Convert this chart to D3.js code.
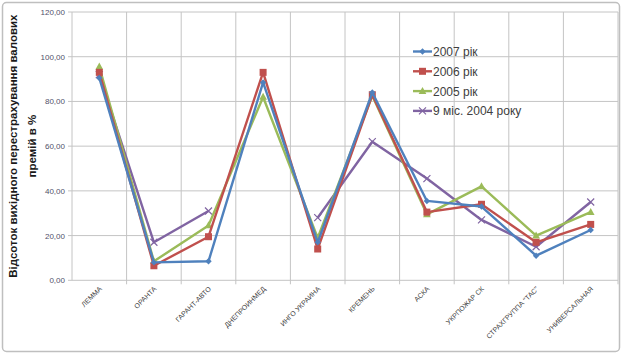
<!DOCTYPE html>
<html><head><meta charset="utf-8">
<script src="https://cdn.jsdelivr.net/npm/d3@7"></script>
<style>
html,body{margin:0;padding:0;background:#fff;}
svg{display:block;font-family:"Liberation Sans",Arial,sans-serif;}
</style></head>
<body>
<svg id="c" width="621" height="355"></svg>
<script>
const categories = ["ЛЕММА","ОРАНТА","ГАРАНТ-АВТО","ДНЕПРОИНМЕД","ИНГО УКРАИНА","КРЕМЕНЬ","АСКА","УКРПОЖАР СК","СТРАХГРУППА \"ТАС\"","УНИВЕРСАЛЬНАЯ"];
const s2007 = [90.5, 8, 8.5, 88.5, 17, 84, 35.5, 33, 11, 22.5];
const s2006 = [93, 6.5, 19.5, 93, 14, 83, 30.5, 34, 17, 25];
const s2005 = [95.5, 8.5, 24.5, 82, 19, 82.5, 29.5, 42, 20, 30.5];
const s2004 = [92, 17, 31, null, 28, 62, 45.5, 27, 15, 35];
const seriesNames = ["2007 рік","2006 рік","2005 рік","9 міс. 2004 року"];
const seriesColors = ["#4F81BD","#C0504D","#9BBB59","#8064A2"];
const seriesMarkers = ["diamond","square","triangle","x"];
const yTicks = [0,20,40,60,80,100,120];
const yTitle = ["Відсоток вихідного перестрахування валових","премій в %"];

const series = [s2007,s2006,s2005,s2004].map((v,i)=>({name:seriesNames[i],values:v,color:seriesColors[i],marker:seriesMarkers[i]}));

const svg = d3.select("#c");
// outer frame
svg.append("rect").attr("x",2.5).attr("y",2.5).attr("width",617).attr("height",349)
  .attr("rx",4).attr("fill","#fff").attr("stroke","#bfbfbf").attr("stroke-width",1.5);

const L=72, R=618, T=12, B=280.3;
const x = d3.scaleBand().domain(categories).range([L,R]).padding(0);
const y = d3.scaleLinear().domain([0,120]).range([B,T]);

// horizontal grid
svg.append("g").selectAll("line").data(yTicks).join("line")
  .attr("x1",L-4).attr("x2",R).attr("y1",d=>y(d)).attr("y2",d=>y(d))
  .attr("stroke","#c4c4c4").attr("stroke-width",1);
// vertical grid at band boundaries
const bounds = categories.map(c=>x(c)).concat([R]);
svg.append("g").selectAll("line").data(bounds.slice(1)).join("line")
  .attr("x1",d=>d).attr("x2",d=>d).attr("y1",T).attr("y2",B+4)
  .attr("stroke","#c4c4c4").attr("stroke-width",1);
// y axis line
svg.append("line").attr("x1",L).attr("x2",L).attr("y1",T).attr("y2",B)
  .attr("stroke","#c4c4c4").attr("stroke-width",1);

// y tick labels
svg.append("g").selectAll("text").data(yTicks).join("text")
  .attr("x",65).attr("y",d=>y(d)+3).attr("text-anchor","end")
  .attr("font-size",8).attr("fill","#50506a")
  .text(d=>d3.format(".2f")(d).replace(".",","));

// x labels
svg.append("g").selectAll("text").data(categories).join("text")
  .attr("transform",d=>`translate(${x(d)+x.bandwidth()/2+3},${B+9}) rotate(-45)`)
  .attr("text-anchor","end").attr("font-size",7).attr("fill","#404040")
  .text(d=>d);

// y title
const yt = svg.append("text").attr("transform",`translate(0,${(T+B)/2}) rotate(-90)`)
  .attr("text-anchor","middle").attr("font-weight","bold").attr("font-size",11.5).attr("fill","#1a1a1a");
yt.append("tspan").attr("x",0).attr("y",17).text(yTitle[0]);
yt.append("tspan").attr("x",0).attr("y",36).text(yTitle[1]);

const cx = d=>x(d)+x.bandwidth()/2;
const line = d3.line().defined(d=>d.v!=null).x(d=>cx(d.c)).y(d=>y(d.v));

function marker(g, type, color, px, py, s){
  if(type==="diamond"){
    g.append("path").attr("d",`M${px},${py-s}L${px+s},${py}L${px},${py+s}L${px-s},${py}Z`).attr("fill",color);
  } else if(type==="square"){
    g.append("rect").attr("x",px-s).attr("y",py-s).attr("width",2*s).attr("height",2*s).attr("fill",color);
  } else if(type==="triangle"){
    g.append("path").attr("d",`M${px},${py-s*1.2}L${px+s*1.1},${py+s*0.8}L${px-s*1.1},${py+s*0.8}Z`).attr("fill",color);
  } else {
    g.append("path").attr("d",`M${px-s},${py-s}L${px+s},${py+s}M${px-s},${py+s}L${px+s},${py-s}`)
      .attr("stroke",color).attr("stroke-width",1.2).attr("fill","none");
  }
}
const sizes = {diamond:3.2,square:3.5,triangle:3.5,x:3.5};

// draw series: purple first (back), then green, red, blue
[3,2,1,0].forEach(i=>{
  const s = series[i];
  const data = categories.map((c,j)=>({c, v:s.values[j]}));
  const g = svg.append("g");
  g.append("path").datum(data).attr("d",line).attr("fill","none")
    .attr("stroke",s.color).attr("stroke-width",2.4).attr("stroke-linejoin","round");
  data.filter(d=>d.v!=null).forEach(d=>marker(g,s.marker,s.color,cx(d.c),y(d.v),sizes[s.marker]));
});

// legend
const lg = svg.append("g");
series.forEach((s,i)=>{
  const yy = 51.5 + i*19.8;
  lg.append("line").attr("x1",413).attr("x2",432).attr("y1",yy).attr("y2",yy)
    .attr("stroke",s.color).attr("stroke-width",2.4);
  marker(lg,s.marker,s.color,422.5,yy,sizes[s.marker]);
  lg.append("text").attr("x",433).attr("y",yy+4.5).attr("font-size",12).attr("fill","#404040").text(s.name);
});
</script>
</body></html>
